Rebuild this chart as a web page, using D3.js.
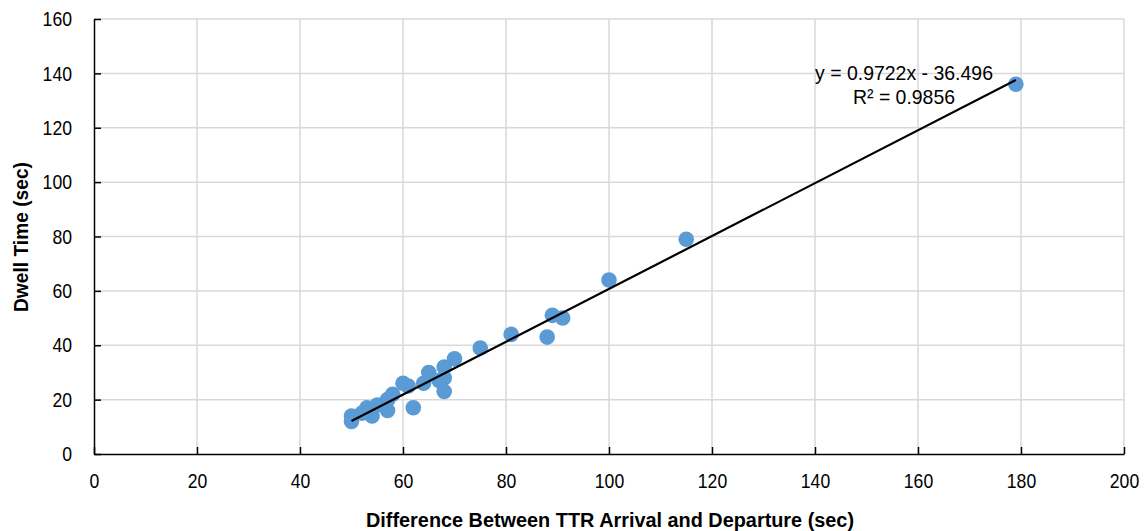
<!DOCTYPE html>
<html><head><meta charset="utf-8">
<script src="https://cdn.jsdelivr.net/npm/d3@7"></script>
<style>body{margin:0;background:#fff}svg{display:block}</style>
</head><body>
<svg id="c" width="1148" height="531"></svg>
<script>
const xVals = [179,115,100,89,91,88,81,75,70,68,65,64,67,68,68,62,60,61,58,57,57,55,54,53,52,50,50];
const yVals = [136,79,64,51,50,43,44,39,35,32,30,26,27,28,23,17,26,25,22,20,16,18,14,17,15,14,12];
const xTicks = [0,20,40,60,80,100,120,140,160,180,200];
const yTicks = [0,20,40,60,80,100,120,140,160];
const slope = 0.9722, intercept = -36.496;
const eqLabel = "y = 0.9722x - 36.496";
const r2Label = "R² = 0.9856";
const xTitle = "Difference Between TTR Arrival and Departure (sec)";
const yTitle = "Dwell Time (sec)";

const svg = d3.select("#c");
const L = 94, R = 1124, T = 19, B = 454;
const x = d3.scaleLinear().domain([0,200]).range([L,R]);
const y = d3.scaleLinear().domain([0,160]).range([B,T]);
const font = "'Liberation Sans',Arial,sans-serif";

// gridlines
svg.append("g").selectAll("line").data(xTicks.slice(1)).join("line")
  .attr("x1",d=>x(d)).attr("x2",d=>x(d)).attr("y1",T).attr("y2",B)
  .attr("stroke","#d9d9d9").attr("stroke-width",1.5);
svg.append("g").selectAll("line").data(yTicks.slice(1)).join("line")
  .attr("x1",L).attr("x2",R).attr("y1",d=>y(d)).attr("y2",d=>y(d))
  .attr("stroke","#d9d9d9").attr("stroke-width",1.5);

// axes
const xa = svg.append("g").attr("transform",`translate(0,${B})`)
  .call(d3.axisBottom(x).tickValues(xTicks).tickSizeInner(-7).tickSizeOuter(0).tickPadding(16));
const ya = svg.append("g").attr("transform",`translate(${L},0)`)
  .call(d3.axisLeft(y).tickValues(yTicks).tickSizeInner(-7).tickSizeOuter(0).tickPadding(22));
[xa,ya].forEach(a=>{
  a.select(".domain").attr("stroke","#000").attr("stroke-width",1.5);
  a.selectAll(".tick line").attr("stroke","#000").attr("stroke-width",1.5);
  a.selectAll(".tick text").attr("font-family",font).attr("font-size",21).attr("fill","#000")
    .attr("lengthAdjust","spacingAndGlyphs")
    .attr("textLength",function(){return this.textContent.length*9.8;});
});
xa.selectAll(".tick text").attr("dy","0.88em");

// points
const pts = xVals.map((v,i)=>({x:v,y:yVals[i]}));
svg.append("g").selectAll("circle").data(pts).join("circle")
  .attr("cx",d=>x(d.x)).attr("cy",d=>y(d.y)).attr("r",7.8)
  .attr("fill","#5b9bd5");

// trendline
const xmin = d3.min(xVals), xmax = d3.max(xVals);
svg.append("line")
  .attr("x1",x(xmin)).attr("y1",y(slope*xmin+intercept))
  .attr("x2",x(xmax)).attr("y2",y(slope*xmax+intercept))
  .attr("stroke","#000").attr("stroke-width",2.2);

svg.append("text").attr("x",815).attr("y",80)
  .attr("font-family",font).attr("font-size",21)
  .attr("textLength",178).attr("lengthAdjust","spacingAndGlyphs").text(eqLabel);
svg.append("text").attr("x",853).attr("y",104)
  .attr("font-family",font).attr("font-size",21)
  .attr("textLength",102).attr("lengthAdjust","spacingAndGlyphs").text(r2Label);

// titles
svg.append("text").attr("x",366).attr("y",527)
  .attr("font-family",font).attr("font-size",20).attr("font-weight","bold")
  .attr("textLength",488).attr("lengthAdjust","spacingAndGlyphs").text(xTitle);
svg.append("text").attr("transform","translate(28,312) rotate(-90)")
  .attr("font-family",font).attr("font-size",20).attr("font-weight","bold")
  .attr("textLength",150).attr("lengthAdjust","spacingAndGlyphs").text(yTitle);
</script>
</body></html>
